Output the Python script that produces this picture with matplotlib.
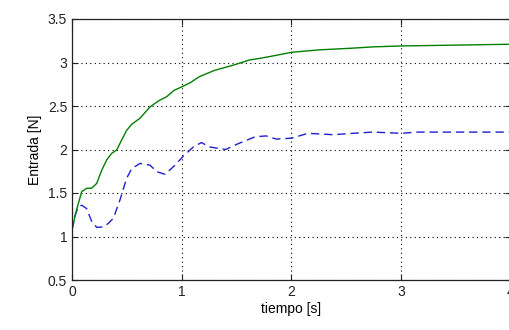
import numpy as np
from matplotlib import pyplot as plt

plt.rcParams["font.family"] = ["Liberation Sans", "DejaVu Sans"]

# green solid line
t_green = [0, 0.03, 0.058, 0.088, 0.134, 0.18, 0.225, 0.27, 0.316, 0.362, 0.407, 0.453,
           0.498, 0.544, 0.62, 0.711, 0.79, 0.863, 0.93, 1.0, 1.08, 1.16, 1.3, 1.47, 1.62,
           1.714, 1.85, 2.0, 2.25, 2.53, 2.75, 3.0, 3.5, 4.0]
y_green = [1.075, 1.25, 1.38, 1.515, 1.554, 1.556, 1.61, 1.76, 1.88, 1.956, 1.994, 2.11,
           2.22, 2.29, 2.36, 2.49, 2.56, 2.607, 2.68, 2.72, 2.77, 2.837, 2.91, 2.97, 3.03,
           3.048, 3.08, 3.117, 3.145, 3.163, 3.18, 3.19, 3.2, 3.21]

# blue dashed line
t_blue = [0, 0.03, 0.058, 0.088, 0.134, 0.18, 0.225, 0.286, 0.33, 0.377, 0.437, 0.498,
          0.544, 0.62, 0.711, 0.772, 0.848, 0.939, 1.015, 1.106, 1.18, 1.25, 1.4, 1.52,
          1.67, 1.77, 1.86, 2.0, 2.15, 2.38, 2.56, 2.74, 3.0, 3.14, 3.5, 4.0]
y_blue = [1.075, 1.25, 1.342, 1.36, 1.32, 1.17, 1.105, 1.11, 1.15, 1.21, 1.42, 1.67,
          1.78, 1.84, 1.82, 1.745, 1.715, 1.82, 1.925, 2.03, 2.08, 2.03, 2.0, 2.07,
          2.147, 2.156, 2.12, 2.13, 2.186, 2.17, 2.186, 2.2, 2.186, 2.2, 2.2, 2.2]

fig = plt.figure(figsize=(5.10, 3.30), dpi=100)
ax = fig.add_axes([72/510, 50/330, 439/510, 261/330])

ax.plot(t_blue, y_blue, color="#1f1fd0", linestyle=(0, (6, 3.5)), linewidth=1.0)
ax.plot(t_green, y_green, color="#008000", linewidth=1.0)

ax.set_xlim(0, 4)
ax.set_ylim(0.5, 3.5)
ax.set_xticks([0, 1, 2, 3, 4])
ax.set_yticks([0.5, 1, 1.5, 2, 2.5, 3, 3.5])
ax.set_yticklabels(["0.5", "1", "1.5", "2", "2.5", "3", "3.5"])
ax.grid(True, color="black", linestyle=(0, (1, 3)), linewidth=0.8)
ax.tick_params(direction="in", length=4, top=True, right=True, labelsize=10, colors="#222222")
for s in ax.spines.values():
    s.set_linewidth(0.9)
    s.set_color("#222222")

ax.set_xlabel("tiempo [s]", fontsize=10, labelpad=2)
ax.set_ylabel("Entrada [N]", fontsize=10, labelpad=4)

fig.savefig("out.png", dpi=100)
